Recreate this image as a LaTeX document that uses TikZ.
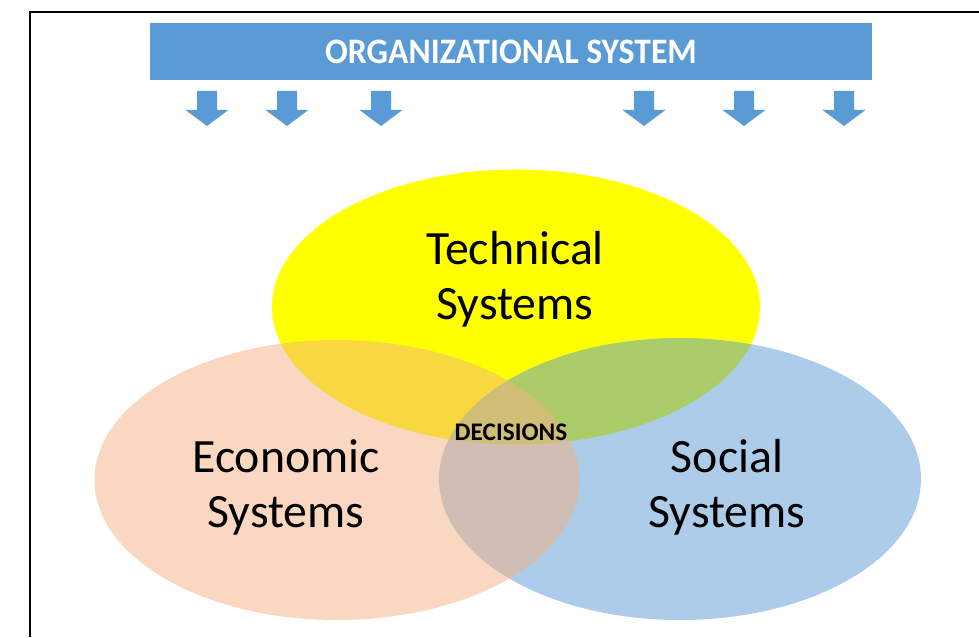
\documentclass[tikz,border=0pt]{standalone}
\usepackage{fontspec}
\setmainfont{Carlito}
\usepackage{graphicx}
\usepackage{tikz}
\usetikzlibrary{calc}

\definecolor{orgblue}{HTML}{5B9BD5}
\definecolor{econpeach}{HTML}{F4B183}
\definecolor{techyellow}{HTML}{FFFF00}

\tikzset{
	venntext/.style={align=center, text=black, inner sep=0, font=\fontsize{34}{39.1}\selectfont},
	venndisc/.style={opacity=0.5},
}

\begin{document}
\begin{tikzpicture}
			%%%%% START %%%%%
			
			\useasboundingbox[fill=white] (0, 0) rectangle (24.475, 15.925);
			
			% frame
			\draw[line width=1.5pt] (0.75, 0) -- (0.75, 15.625) -- (24.475, 15.625);
			
			% organizational system bar
			\node[fill=orgblue, minimum width=18.05cm, minimum height=1.425cm, inner sep=0,
				text=white, font=\bfseries\fontsize{25.5}{28}\selectfont] (orgsys) at (12.775, 14.6375) {\scalebox{0.94}[1]{ORGANIZATIONAL SYSTEM}};
			
			\foreach \x in {5.175, 7.175, 9.525, 16.1, 18.6, 21.1}
				\fill[orgblue] ({\x-0.25}, 13.65) -- ++(0.5, 0) -- ++(0, -0.475) -- ++(0.2875, 0)
					-- ({\x}, 12.775) -- ({\x-0.5375}, 13.175) -- ++(0.2875, 0) -- cycle;
			
			% the three systems
			\fill[techyellow] (12.9, 8.25) ellipse (6.1 and 3.4375);
			\fill[orgblue, venndisc] (17.0, 3.95) ellipse (6.025 and 3.525);
			\fill[econpeach, venndisc] (8.425, 3.925) ellipse (6.0625 and 3.5);
			
			\node[venntext] (technical) at (12.875, 8.9375) {Technical\\Systems};
			\node[venntext] (economic) at (7.15, 3.7375) {Economic\\Systems};
			\node[venntext] (social) at (18.175, 3.7375) {Social\\Systems};
			
			\node[font=\bfseries\fontsize{18}{21}\selectfont, inner sep=0] (decisions) at (12.775, 5.125) {DECISIONS};
			
			%%%%% END %%%%%
\end{tikzpicture}
\end{document}
